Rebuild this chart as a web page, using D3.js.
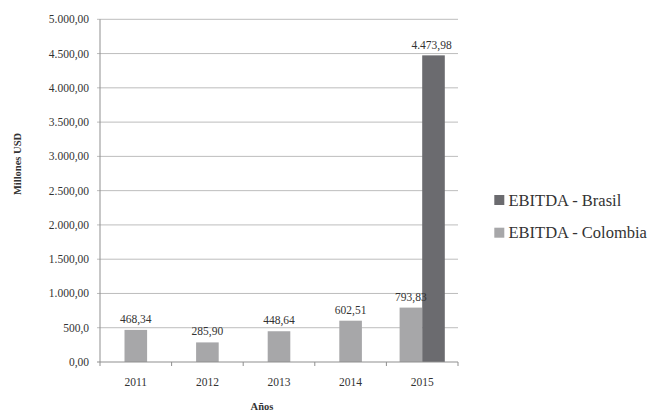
<!DOCTYPE html>
<html><head><meta charset="utf-8">
<script src="https://cdn.jsdelivr.net/npm/d3@7"></script>
<style>body{margin:0;background:#fff}</style>
</head><body>
<script>
const years = ["2011","2012","2013","2014","2015"];
const colombia = [468.34, 285.90, 448.64, 602.51, 793.83];
const brasil = [null, null, null, null, 4473.98];
const colombiaLabels = ["468,34","285,90","448,64","602,51","793,83"];
const brasilLabels = [null, null, null, null, "4.473,98"];
const yTicks = [0,500,1000,1500,2000,2500,3000,3500,4000,4500,5000];
const yTickLabels = ["0,00","500,0","1.000,00","1.500,00","2.000,00","2.500,00","3.000,00","3.500,00","4.000,00","4.500,00","5.000,00"];
const seriesNames = ["EBITDA - Brasil","EBITDA - Colombia"];
const colors = {brasil:"#6b6b6f", colombia:"#a7a7a9"};

const W=652,H=410;
const m={l:100,r:194,t:19.3,b:48};
const svg=d3.select("body").append("svg").attr("width",W).attr("height",H);
const font="'Liberation Serif','DejaVu Serif',serif";
const x=d3.scaleBand().domain(years).range([m.l,W-m.r]).paddingInner(0).paddingOuter(0);
const y=d3.scaleLinear().domain([0,5000]).range([H-m.b,m.t]);

// gridlines
svg.append("g").selectAll("line").data(yTicks.slice(1)).join("line")
 .attr("x1",m.l-3).attr("x2",W-m.r).attr("y1",d=>y(d)).attr("y2",d=>y(d))
 .attr("stroke","#bdbdbd").attr("stroke-width",1);
// y labels
svg.append("g").selectAll("text").data(yTicks).join("text")
 .attr("x",89).attr("y",d=>y(d)+4).attr("text-anchor","end")
 .attr("font-family",font).attr("font-size",11.5).attr("fill","#333")
 .text((d,i)=>yTickLabels[i]);

const bw=22.6;
const gb=svg.append("g");
const gl=svg.append("g");
years.forEach((yr,i)=>{
  const c=x(yr)+x.bandwidth()/2;
  const hasB=brasil[i]!=null;
  const cx=hasB?c-bw:c-bw/2;
  gb.append("rect").attr("x",cx).attr("width",bw).attr("y",y(colombia[i])).attr("height",y(0)-y(colombia[i])).attr("fill",colors.colombia);
  gl.append("text").attr("x",cx+bw/2).attr("y",y(colombia[i])-7).attr("text-anchor","middle")
   .attr("font-family",font).attr("font-size",11.5).attr("fill","#333").text(colombiaLabels[i]);
  if(hasB){
    gb.append("rect").attr("x",c).attr("width",bw).attr("y",y(brasil[i])).attr("height",y(0)-y(brasil[i])).attr("fill",colors.brasil);
    gl.append("text").attr("x",c+bw/2-2).attr("y",y(brasil[i])-6).attr("text-anchor","middle")
     .attr("font-family",font).attr("font-size",11.5).attr("fill","#333").text(brasilLabels[i]);
  }
});

// axes lines
svg.append("line").attr("x1",m.l).attr("x2",m.l).attr("y1",m.t).attr("y2",y(0)).attr("stroke","#8f8f8f");
svg.append("line").attr("x1",m.l-3).attr("x2",W-m.r).attr("y1",y(0)).attr("y2",y(0)).attr("stroke","#8f8f8f");
const bounds=years.map(d=>x(d)).concat([W-m.r]);
svg.append("g").selectAll("line").data(bounds).join("line")
 .attr("x1",d=>d).attr("x2",d=>d).attr("y1",y(0)).attr("y2",y(0)+4).attr("stroke","#8f8f8f");
svg.append("g").selectAll("text").data(years).join("text")
 .attr("x",d=>x(d)+x.bandwidth()/2).attr("y",386).attr("text-anchor","middle")
 .attr("font-family",font).attr("font-size",11.5).attr("fill","#333").text(d=>d);

svg.append("text").attr("x",262).attr("y",409.5).attr("text-anchor","middle")
 .attr("font-family",font).attr("font-size",10.5).attr("font-weight","bold").attr("fill","#333").text("Años");
svg.append("text").attr("transform","translate(20.5,164) rotate(-90)").attr("text-anchor","middle")
 .attr("font-family",font).attr("font-size",10.5).attr("font-weight","bold").attr("fill","#333").text("Millones USD");

// legend
const leg=svg.append("g");
[["brasil",195],["colombia",227.7]].forEach((d,i)=>{
  leg.append("rect").attr("x",494.3).attr("y",d[1]).attr("width",10).attr("height",10).attr("fill",colors[d[0]]);
  leg.append("text").attr("x",508.5).attr("y",d[1]+10.5).attr("font-family",font).attr("font-size",16.5)
   .attr("fill","#333").text(seriesNames[i]);
});
</script>
</body></html>
